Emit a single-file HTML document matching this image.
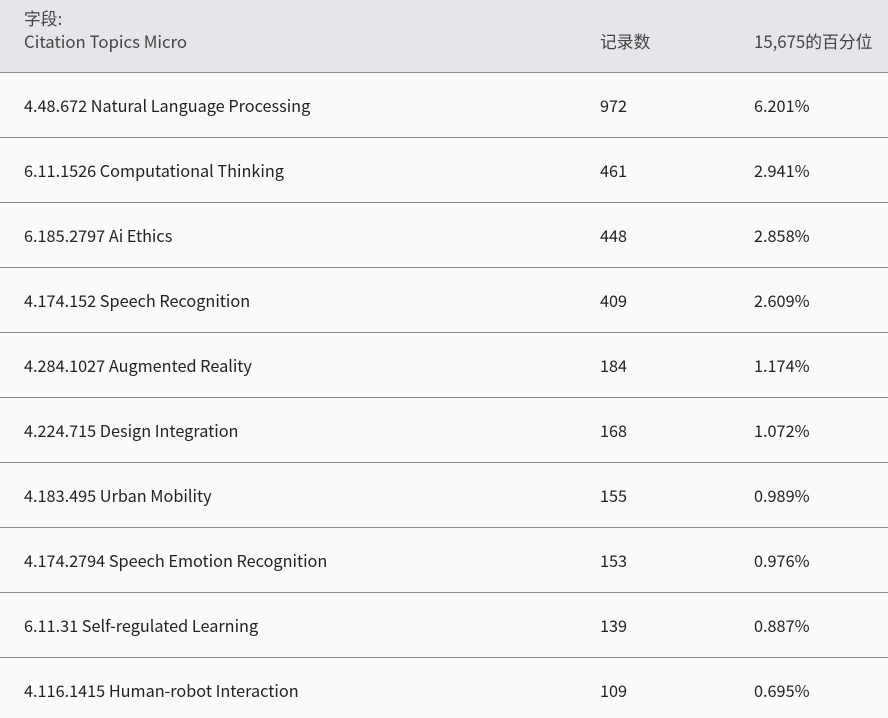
<!DOCTYPE html>
<html><head><meta charset="utf-8"><style>
body{margin:0;width:888px;height:718px;overflow:hidden;background:#fcf9fd;font-family:"Noto Sans CJK SC","Liberation Sans",sans-serif;color:#222;font-size:16.25px;position:relative}
.hdr{position:absolute;left:0;top:0;width:888px;height:72px;background:#e6e5ea;border-bottom:1px solid #888}
.t{position:absolute;white-space:nowrap;line-height:20px}
.h{color:#444;font-size:16.8px}
.line{position:absolute;left:0;width:888px;height:1px;background:#888}
</style></head><body>
<div class="hdr"></div>
<div class="t h" style="left:24px;top:8px">字段:</div>
<div class="t h" style="left:24px;top:31px">Citation Topics Micro</div>
<div class="t h" style="left:600px;top:31px">记录数</div>
<div class="t h" style="left:754px;top:31px">15,675的百分位</div>
<div id="rows"></div>
<script>
var d=[["4.48.672 Natural Language Processing",972,"6.201%"],["6.11.1526 Computational Thinking",461,"2.941%"],["6.185.2797 Ai Ethics",448,"2.858%"],["4.174.152 Speech Recognition",409,"2.609%"],["4.284.1027 Augmented Reality",184,"1.174%"],["4.224.715 Design Integration",168,"1.072%"],["4.183.495 Urban Mobility",155,"0.989%"],["4.174.2794 Speech Emotion Recognition",153,"0.976%"],["6.11.31 Self-regulated Learning",139,"0.887%"],["4.116.1415 Human-robot Interaction",109,"0.695%"]];
var h="";
d.forEach(function(r,i){var y=95+i*65;
h+='<div class="t" style="left:24px;top:'+y+'px">'+r[0]+'</div><div class="t" style="left:600px;top:'+y+'px">'+r[1]+'</div><div class="t" style="left:754px;top:'+y+'px">'+r[2]+'</div>';
if(i<9)h+='<div class="line" style="top:'+(137+i*65)+'px"></div>';});
document.getElementById("rows").innerHTML=h;
</script>
</body></html>
